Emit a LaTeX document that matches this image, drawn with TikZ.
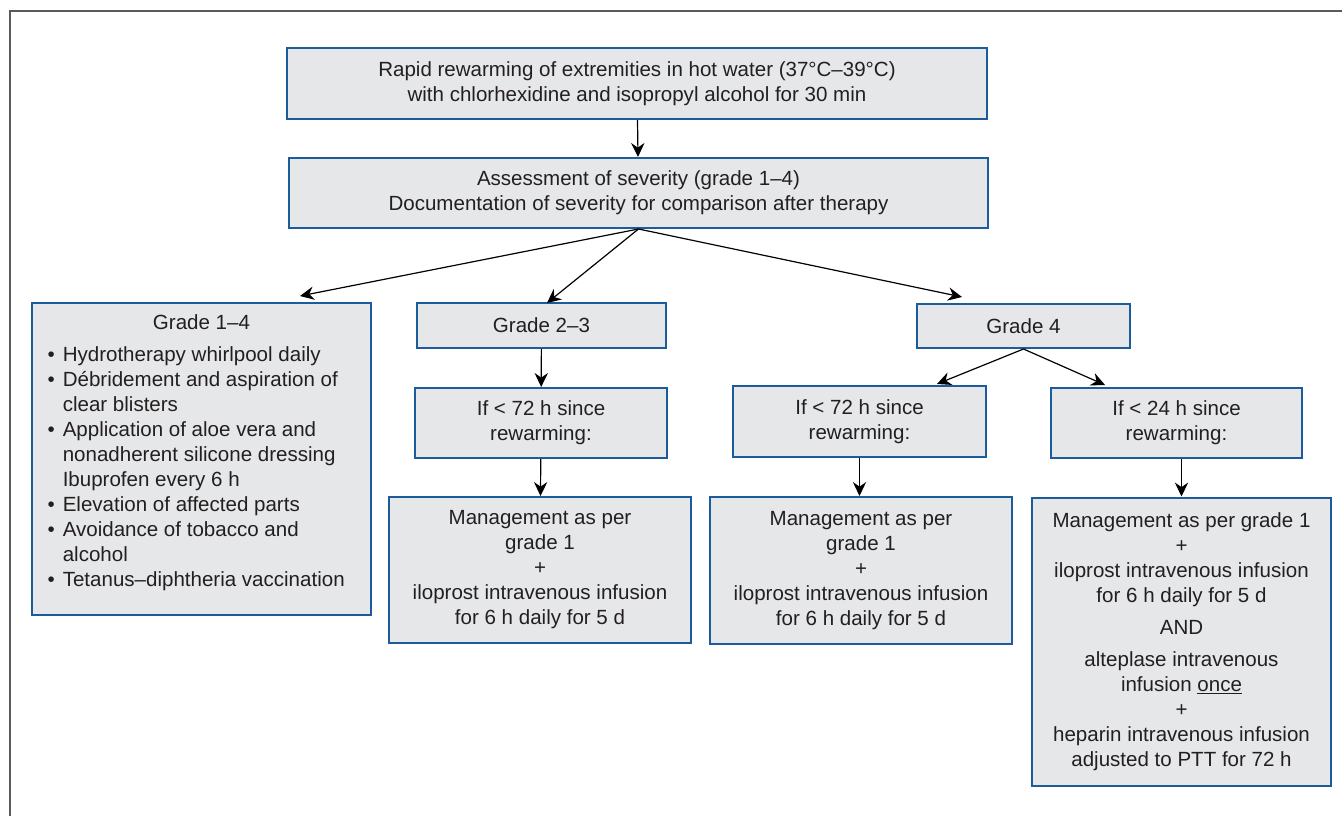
\documentclass[tikz,border=0pt]{standalone}
\usepackage{fontspec}
\setmainfont{Liberation Sans}
\usetikzlibrary{arrows.meta}
\definecolor{boxfill}{HTML}{E6E7E8}
\definecolor{boxline}{HTML}{1C5C9C}
\definecolor{inkgray}{HTML}{231F20}
\definecolor{framegray}{HTML}{5A5A5A}
\tikzset{every picture/.style={line width=0.75pt}}
\tikzset{
  box/.style={draw=boxline, line width=1.5pt, fill=boxfill, inner sep=0pt,
    align=center, text=inkgray, font=\fontsize{15.4}{18.75}\selectfont},
  arr/.style={-{Stealth[length=10.5pt,width=10pt,inset=3.5pt]}, line width=0.9pt, black}
}

\begin{document}
\begin{tikzpicture}[x=0.75pt,y=0.75pt,yscale=-1,xscale=1]
\useasboundingbox (0,0) rectangle (1342,816);

%Shape: Frame
\draw [framegray, line width=1.5pt] (9.5,816) -- (9.5,11) -- (1342,11) ;

%Shape: Rectangle
\node [box, minimum width=525pt, minimum height=53.25pt] (rapid) at (637,83.5)
  {Rapid rewarming of extremities in hot water (37°C–39°C)\\with chlorhexidine and isopropyl alcohol for 30 min};
%Shape: Rectangle
\node [box, minimum width=524.25pt, minimum height=52.5pt] (assess) at (638.5,193)
  {Assessment of severity (grade 1–4)\\Documentation of severity for comparison after therapy};

%Shape: Rectangle
\node [box, minimum width=254.25pt, minimum height=234pt] (grade14) at (201.5,459)
  {\begin{tabular}{@{}c@{\hspace{6pt}}l@{\hspace{8pt}}}
   \multicolumn{2}{c}{Grade 1–4}\\[5.25pt]
   \textbullet & Hydrotherapy whirlpool daily\\
   \textbullet & Débridement and aspiration of\\
               & clear blisters\\
   \textbullet & Application of aloe vera and\\
               & nonadherent silicone dressing\\
               & Ibuprofen every 6 h\\
   \textbullet & Elevation of affected parts\\
   \textbullet & Avoidance of tobacco and\\
               & alcohol\\
   \textbullet & Tetanus–diphtheria vaccination\\[9pt]
   \end{tabular}};

%Shape: Rectangle
\node [box, minimum width=186.75pt, minimum height=33.75pt] (grade23) at (541.5,325.5) {Grade 2–3};
\node [box, minimum width=189pt, minimum height=52.5pt] (iflow) at (541,423) {If < 72 h since\\rewarming:};
\node [box, minimum width=226.5pt, minimum height=109.5pt] (mgmtlow) at (540,570)
  {Management as per\\grade 1\\+\\iloprost intravenous infusion\\for 6 h daily for 5 d};

%Shape: Rectangle
\node [box, minimum width=159.75pt, minimum height=33pt] (grade4) at (1023.5,326) {Grade 4};
\node [box, minimum width=189.75pt, minimum height=53.25pt] (ifmid) at (859.5,421.5) {If < 72 h since\\rewarming:};
\node [box, minimum width=226.5pt, minimum height=110.25pt] (mgmtmid) at (861,570.5)
  {Management as per\\grade 1\\+\\iloprost intravenous infusion\\for 6 h daily for 5 d};
\node [box, minimum width=188.25pt, minimum height=52.5pt] (ifshort) at (1176.5,423) {If < 24 h since\\rewarming:};
\node [box, minimum width=224.25pt, minimum height=216pt] (mgmtshort) at (1181.5,641.5)
  {Management as per grade 1\\+\\iloprost intravenous infusion\\for 6 h daily for 5 d\\[5.25pt]
   AND\\[5.25pt]alteplase intravenous\\infusion \underline{once}\\+\\heparin intravenous infusion\\adjusted to PTT for 72 h};

%Arrow tips
\coordinate (tip14) at (300,296);
\coordinate (tip23) at (547,303);
\coordinate (tip4) at (962,297);
\coordinate (tipmid) at (937,384);
\coordinate (tipshort) at (1105,385);

%Straight Lines
\draw [arr] (rapid) -- (assess) ;
\draw [arr] (assess.south) -- (tip14) ;
\draw [arr] (assess.south) -- (tip23) ;
\draw [arr] (assess.south) -- (tip4) ;
\draw [arr] (grade23) -- (iflow) ;
\draw [arr] (iflow) -- (mgmtlow) ;
\draw [arr] (grade4.south) -- (tipmid) ;
\draw [arr] (grade4.south) -- (tipshort) ;
\draw [arr] (ifmid.south) -- (ifmid.south |- mgmtmid.north) ;
\draw [arr] (ifshort.south -| mgmtshort.north) -- (mgmtshort.north) ;

\end{tikzpicture}
\end{document}
